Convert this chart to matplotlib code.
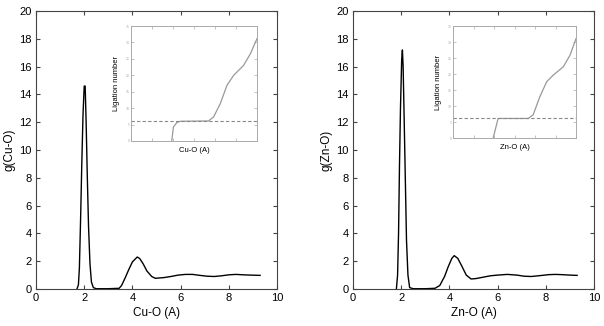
import matplotlib
matplotlib.use("Agg")
import matplotlib.pyplot as plt

plt.rcParams['font.family'] = ['Liberation Sans', 'DejaVu Sans']

# Main RDF data
cu_r = [1.70, 1.76, 1.80, 1.85, 1.90, 1.95, 2.00, 2.04, 2.08, 2.13, 2.18, 2.24, 2.30, 2.38, 2.50,
        3.0, 3.45, 3.55, 3.7, 3.85, 4.0, 4.2, 4.3, 4.45, 4.6, 4.8, 4.95, 5.3, 5.6, 5.9,
        6.2, 6.5, 6.8, 7.1, 7.4, 7.7, 8.0, 8.3, 8.6, 8.9, 9.3]
cu_g = [0, 0.3, 1.5, 5, 9, 12.5, 14.6, 14.6, 12, 8, 4.5, 1.8, 0.5, 0.1, 0.02,
        0.02, 0.05, 0.25, 0.8, 1.4, 1.95, 2.3, 2.2, 1.8, 1.3, 0.9, 0.77, 0.82, 0.9, 1.0,
        1.05, 1.05, 0.98, 0.92, 0.9, 0.95, 1.02, 1.05, 1.02, 1.0, 0.98]

zn_r = [1.80, 1.85, 1.89, 1.93, 1.97, 2.02, 2.05, 2.08, 2.12, 2.17, 2.22, 2.28, 2.35, 2.5,
        3.0, 3.4, 3.6, 3.8, 3.95, 4.1, 4.2, 4.35, 4.5, 4.7, 4.9, 5.1, 5.4, 5.7, 6.0,
        6.4, 6.8, 7.1, 7.4, 7.8, 8.1, 8.4, 8.7, 9.0, 9.3]
zn_g = [0, 1, 4, 9, 13, 16.5, 17.2, 16, 12.5, 8, 3.5, 1, 0.1, 0.02,
        0.02, 0.05, 0.25, 0.9, 1.6, 2.2, 2.4, 2.2, 1.7, 1.0, 0.72, 0.75, 0.85, 0.95, 1.0,
        1.05, 1.0, 0.92, 0.9, 0.97, 1.03, 1.05, 1.03, 1.0, 0.98]

# Inset (running coordination) data
cu_in_x = [1.94, 2.02, 2.18, 2.34, 3.0, 3.69, 3.93, 4.25, 4.57, 4.89, 5.36, 5.68, 6.0]
cu_in_y = [0, 0.85, 1.12, 1.2, 1.21, 1.22, 1.46, 2.27, 3.39, 4.0, 4.6, 5.3, 6.23]
cu_level = 1.22

zn_in_x = [1.96, 2.2, 3.0, 3.67, 3.91, 4.24, 4.57, 4.89, 5.38, 5.71, 6.0]
zn_in_y = [0, 1.22, 1.22, 1.22, 1.45, 2.59, 3.52, 3.93, 4.45, 5.18, 6.21]
zn_level = 1.22

fig = plt.figure(figsize=(6.04, 3.26), dpi=100)

frame_col = '#444444'

def main_axes(rect, r, g, ylabel, xlabel):
    ax = fig.add_axes(rect)
    ax.plot(r, g, color='black', lw=1.0)
    ax.set_xlim(0, 10)
    ax.set_ylim(0, 20)
    ax.set_xticks([0, 2, 4, 6, 8, 10])
    ax.set_yticks(range(0, 21, 2))
    ax.tick_params(direction='in', top=True, right=True, length=3, labelsize=8, color=frame_col, pad=3)
    for s in ax.spines.values():
        s.set_color(frame_col)
        s.set_linewidth(0.8)
    ax.set_ylabel(ylabel, fontsize=8.5, labelpad=3)
    ax.set_xlabel(xlabel, fontsize=8.5, labelpad=3)
    return ax

def inset_axes(rect, x, y, level, xlabel):
    ax = fig.add_axes(rect)
    ax.plot(x, y, color='#999999', lw=0.9)
    ax.axhline(level, color='#888888', lw=0.8, ls=(0, (3, 2)))
    ax.set_xlim(0, 6)
    ax.set_ylim(0, 7)
    ax.set_xticks(range(0, 7))
    ax.set_yticks(range(0, 8))
    ax.set_xticklabels([''] * 7)
    ax.set_yticklabels([str(v * 5) for v in range(0, 8)], fontsize=2.5, color='#aaaaaa')
    ax.tick_params(direction='in', top=True, right=True, length=2, color='#aaaaaa', width=0.5, pad=1)
    for s in ax.spines.values():
        s.set_color('#aaaaaa')
        s.set_linewidth(0.7)
    ax.set_ylabel('Ligation number', fontsize=5.5, labelpad=4)
    ax.set_xlabel(xlabel, fontsize=5.5, labelpad=3)
    return ax

main_axes([36/604, 37/326, 241/604, 278/326], cu_r, cu_g, 'g(Cu-O)', 'Cu-O (A)')
main_axes([353/604, 37/326, 241/604, 278/326], zn_r, zn_g, 'g(Zn-O)', 'Zn-O (A)')
inset_axes([131/604, (326-141)/326, 126/604, 115/326], cu_in_x, cu_in_y, cu_level, 'Cu-O (A)')
inset_axes([453/604, (326-138)/326, 123/604, 112/326], zn_in_x, zn_in_y, zn_level, 'Zn-O (A)')

fig.savefig('out.png', dpi=100)
